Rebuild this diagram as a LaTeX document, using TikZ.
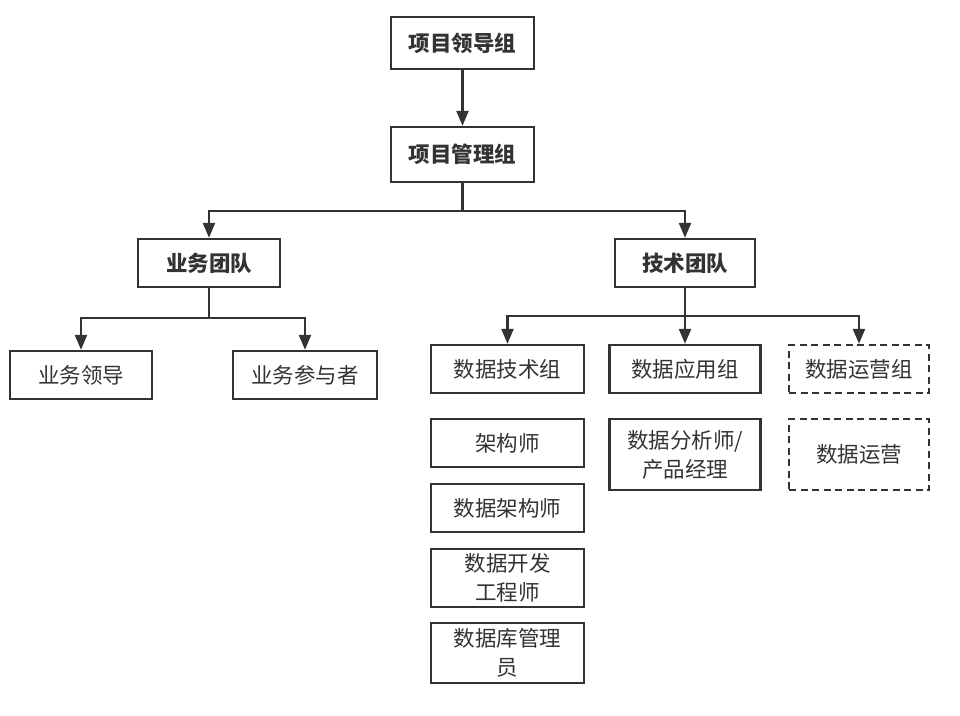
\documentclass[tikz,border=0pt]{standalone}
\usepackage{fontspec}
\newfontfamily\cjk{Noto Sans CJK SC}
\usepackage{tikz}
\usetikzlibrary{arrows.meta,positioning}
\definecolor{ink}{HTML}{333333}

\begin{document}
\begin{tikzpicture}[
  x=1pt, y=-1pt,
  every node/.style={font=\cjk\fontsize{21.5}{29}\selectfont, text=ink},
  unit/.style={draw=ink, line width=2.4pt, minimum width=153pt, minimum height=48pt, align=center, inner sep=0pt},
  head/.style={unit, font=\cjk\bfseries\fontsize{21.5}{29}\selectfont},
  plan/.style={unit, dash pattern=on 7pt off 4.5pt},
  rel/.style={-{Triangle[length=15pt,width=12pt]}, draw=ink, line width=2.4pt},
  link/.style={draw=ink, line width=2.4pt}
]
\useasboundingbox (0,0) rectangle (960,715);

\node[head, minimum width=143pt, minimum height=52pt] (lead) at (462.5,43) {项目领导组};
\node[head, minimum width=143pt, minimum height=55pt] (mgmt) at (462.5,154.5) {项目管理组};
\node[head, minimum width=142pt] (biz) at (209,263) {业务团队};
\node[head, minimum width=140pt] (tech) at (685,263) {技术团队};

\node[unit, minimum width=142pt] (bizlead) at (81,375) {业务领导};
\node[unit, minimum width=144pt] (bizpart) at (305,375) {业务参与者};

\node[unit] (dtech) at (507.5,369) {数据技术组};
\node[unit, minimum width=151pt] (dapp) at (685,369) {数据应用组};
\node[plan, minimum width=140pt] (dops) at (859,369) {数据运营组};

\node[unit] (arch) at (507.5,443) {架构师};
\node[unit] (darch) at (507.5,508) {数据架构师};
\node[unit, minimum height=58pt] (ddev) at (507.5,578) {数据开发\\工程师};
\node[unit, minimum height=60pt] (dba) at (507.5,653) {数据库管理\\员};
\node[unit, minimum width=151pt, minimum height=71pt] (analyst) at (685,454.5) {数据分析师/\\产品经理};
\node[plan, minimum width=140pt, minimum height=71pt] (ops) at (859,454.5) {数据运营};

\coordinate (topsplit) at (462.5,211);
\coordinate (bizsplit) at (209,318);
\coordinate (techsplit) at (685,316);

\draw[rel] (lead) -- (mgmt);
\draw[link] (mgmt) -- (topsplit);
\draw[rel] (topsplit) -| (biz);
\draw[rel] (topsplit) -| (tech);

\draw[link] (biz) -- (bizsplit);
\draw[rel] (bizsplit) -| (bizlead);
\draw[rel] (bizsplit) -| (bizpart);

\draw[rel] (tech) -- (dapp);
\draw[rel] (techsplit) -| (dtech);
\draw[rel] (techsplit) -| (dops);
\end{tikzpicture}
\end{document}
